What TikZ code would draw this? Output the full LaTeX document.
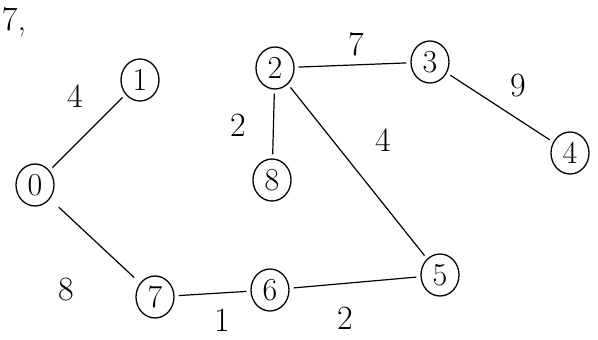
\documentclass[tikz,border=0pt]{standalone}
\usetikzlibrary{shapes.geometric}
\begin{document}
\begin{tikzpicture}[x=1pt,y=-1pt,
  vert/.style={ellipse,draw,line width=1.3pt,minimum width=38pt,minimum height=42pt,inner sep=0pt,font=\fontsize{32}{34}\selectfont},
  edge/.style={line width=1.2pt,shorten <=4pt,shorten >=4pt},
  wt/.style={font=\fontsize{34}{36}\selectfont}]
\useasboundingbox (0,0) rectangle (598,340);
\fill[white] (0,0) rectangle (598,340);
\node[vert] (n0) at (35,185) {0};
\node[vert] (n1) at (140,80) {1};
\node[vert] (n2) at (275,68) {2};
\node[vert] (n3) at (430,62) {3};
\node[vert] (n4) at (570,153) {4};
\node[vert] (n8) at (272,180) {8};
\node[vert] (n5) at (440,275) {5};
\node[vert] (n6) at (270,290) {6};
\node[vert] (n7) at (155,297) {7};
\node[wt] (t7) at (14,22) {7,};
\draw[edge] (n0) -- (n1);
\draw[edge] (n2) -- (n3);
\draw[edge] (n3) -- (n4);
\draw[edge] (n2) -- (n8);
\draw[edge] (n2) -- (n5);
\draw[edge,shorten <=8pt,shorten >=12pt] (n7) -- (n0);
\draw[edge] (n7) -- (n6);
\draw[edge] (n6) -- (n5);
\node[wt] (w01) at (75,96) {4};
\node[wt] (w23) at (356,44) {7};
\node[wt] (w34) at (518,86) {9};
\node[wt] (w28) at (238,125) {2};
\node[wt] (w25) at (383,140) {4};
\node[wt] (w07) at (66,290) {8};
\node[wt] (w76) at (222,320) {1};
\node[wt] (w65) at (345,318) {2};
\end{tikzpicture}
\end{document}
